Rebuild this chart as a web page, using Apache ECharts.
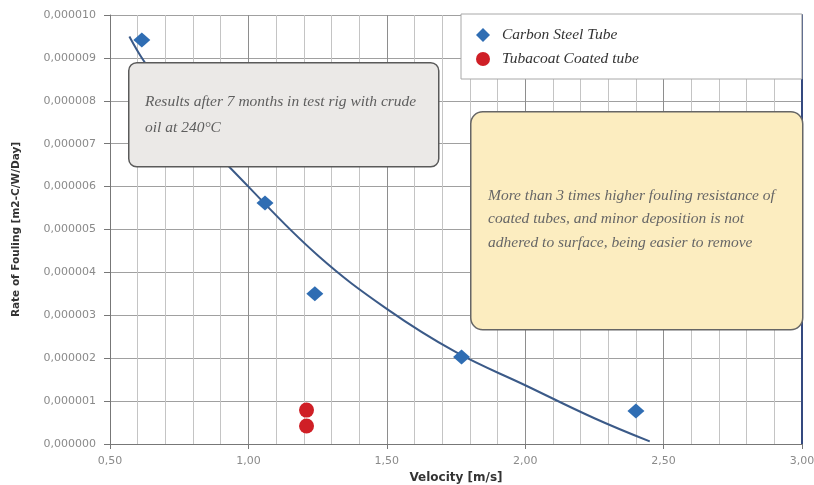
<!DOCTYPE html>
<html>
<head>
<meta charset="utf-8">
<script src="https://cdn.jsdelivr.net/npm/echarts@6/dist/echarts.min.js"></script>
<style>
html,body{margin:0;padding:0;background:#fff;}
#chart{width:814px;height:485px;}
</style>
</head>
<body>
<div id="chart"></div>
<script>
// Carbon steel tube measurements
const carbonVelocity = [0.615, 1.06, 1.24, 1.77, 2.40];
const carbonRate = [9.42e-6, 5.62e-6, 3.50e-6, 2.03e-6, 0.77e-6];
// Tubacoat coated tube measurements
const coatedVelocity = [1.21, 1.21];
const coatedRate = [0.79e-6, 0.42e-6];
// Trend curve
const trendVelocity = [0.57, 0.62, 0.75, 1.00, 1.25, 1.50, 1.75, 2.00, 2.25, 2.45];
const trendRate = [9.5e-6, 8.95e-6, 7.75e-6, 6.0e-6, 4.4e-6, 3.15e-6, 2.14e-6, 1.37e-6, 0.6e-6, 0.06e-6];

const seriesNames = ['Carbon Steel Tube', 'Tubacoat Coated tube'];
const noteGray = ['Results after 7 months in test rig with crude', 'oil at 240°C'];
const noteYellow = ['More than 3 times higher fouling resistance of', 'coated tubes, and minor deposition is not', 'adhered to surface, being easier to remove'];

const zip = (a, b) => a.map((v, i) => [v, b[i]]);

const chart = echarts.init(document.getElementById('chart'), null, {renderer: 'canvas'});
const serif = '"Liberation Serif", "DejaVu Serif", serif';
const sans = '"DejaVu Sans", "Liberation Sans", sans-serif';

chart.setOption({
  animation: false,
  backgroundColor: '#ffffff',
  grid: {left: 110, right: 12, top: 15, bottom: 41, containLabel: false, outerBoundsMode: 'none'},
  xAxis: {
    type: 'value', min: 0.5, max: 3.0, interval: 0.5,
    name: 'Velocity [m/s]', nameLocation: 'middle', nameGap: 28,
    nameTextStyle: {fontFamily: sans, fontWeight: 'bold', fontSize: 12, color: '#333'},
    axisLine: {show: true, lineStyle: {color: '#777', width: 1}},
    axisTick: {show: true, length: 5, lineStyle: {color: '#777'}},
    axisLabel: {margin: 12, fontFamily: sans, fontSize: 11, color: '#8a8a8a',
      formatter: v => v.toFixed(2).replace('.', ',')},
    splitLine: {show: true, lineStyle: {color: '#8e8e8e', width: 1}},
    minorTick: {show: false, splitNumber: 5},
    minorSplitLine: {show: true, lineStyle: {color: '#c4c4c4', width: 1}}
  },
  yAxis: [{
    type: 'value', min: 0, max: 0.00001, interval: 0.000001,
    name: 'Rate of Fouling [m2-C/W/Day]', nameLocation: 'middle', nameGap: 88,
    nameTextStyle: {fontFamily: sans, fontWeight: 'bold', fontSize: 10.5, color: '#333'},
    axisLine: {show: true, lineStyle: {color: '#777', width: 1}},
    axisTick: {show: true, length: 6, lineStyle: {color: '#777'}},
    axisLabel: {margin: 14, fontFamily: sans, fontSize: 11, color: '#8a8a8a',
      formatter: v => v.toFixed(6).replace('.', ',')},
    splitLine: {show: true, lineStyle: {color: '#a0a0a0', width: 1}}
  }, {
    type: 'value', min: 0, max: 0.00001, position: 'right',
    axisLine: {show: true, lineStyle: {color: '#34497f', width: 2}},
    axisTick: {show: false}, axisLabel: {show: false}, splitLine: {show: false}
  }],
  legend: {
    orient: 'vertical', left: 461, top: 14,
    data: seriesNames,
    backgroundColor: '#ffffff', borderColor: '#a8a8a8', borderWidth: 1,
    padding: [13, 163, 12, 15],
    itemGap: 8, itemWidth: 14, itemHeight: 14,
    textStyle: {fontFamily: serif, fontStyle: 'italic', fontSize: 15.5, color: '#333', padding: [0, 0, 0, 7]},
    z: 20
  },
  graphic: [
    {type: 'rect', left: 128, top: 62, z: 100,
      shape: {width: 310, height: 104, r: 8},
      style: {fill: '#ebe9e7', stroke: '#5a5a5a', lineWidth: 1.5}},
    {type: 'text', left: 145, top: 89, z: 101,
      style: {text: noteGray.join('\n'), fill: '#5e5e5e', font: 'italic 15.5px ' + serif, lineHeight: 26}},
    {type: 'rect', left: 470, top: 111, z: 100,
      shape: {width: 332, height: 218, r: 12},
      style: {fill: '#fcedc0', stroke: '#666666', lineWidth: 1.5}},
    {type: 'text', left: 488, top: 184, z: 101,
      style: {text: noteYellow.join('\n'), fill: '#666666', font: 'italic 15.5px ' + serif, lineHeight: 23.5}}
  ],
  series: [
    {
      name: 'trend', type: 'line', data: zip(trendVelocity, trendRate),
      smooth: 0.4, showSymbol: false, symbol: 'none',
      lineStyle: {color: '#3b5a88', width: 2}, z: 3, silent: true
    },
    {
      name: seriesNames[0], type: 'scatter', data: zip(carbonVelocity, carbonRate),
      symbol: 'diamond', symbolSize: [17, 15],
      itemStyle: {color: '#2f6db3', opacity: 1}, z: 4
    },
    {
      name: seriesNames[1], type: 'scatter', data: zip(coatedVelocity, coatedRate),
      symbol: 'circle', symbolSize: 15,
      itemStyle: {color: '#cf1f26', opacity: 1}, z: 4
    }
  ]
});
</script>
</body>
</html>
